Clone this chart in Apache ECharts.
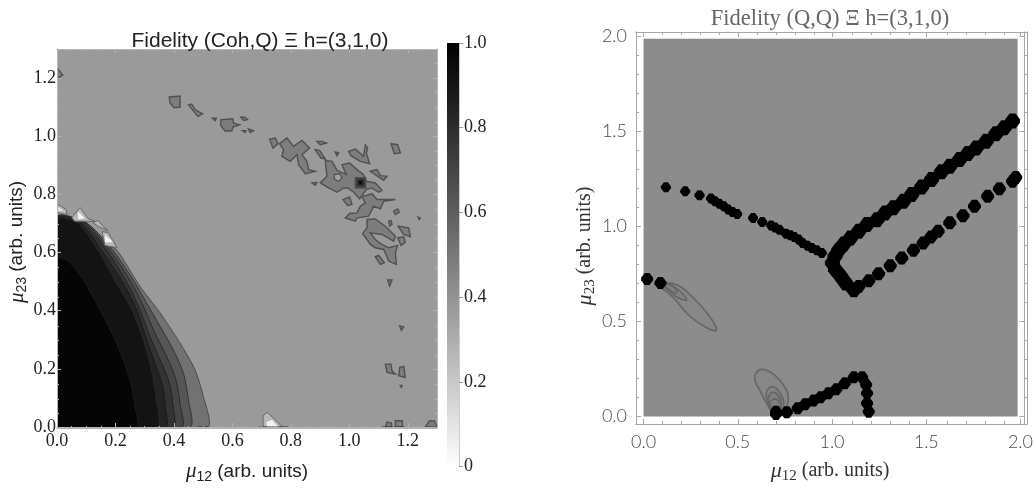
<!DOCTYPE html>
<html><head><meta charset="utf-8">
<style>html,body{margin:0;padding:0;background:#fff}#c{width:1036px;height:489px}</style>
<script src="https://cdn.jsdelivr.net/npm/echarts@6/dist/echarts.min.js"></script>
</head><body><div id="c"></div>
<script>
// ---- tick values
const leftTicks=[0,0.2,0.4,0.6,0.8,1.0,1.2];
const leftMinor=[0.05,0.1,0.15,0.25,0.3,0.35,0.45,0.5,0.55,0.65,0.7,0.75,0.85,0.9,0.95,1.05,1.1,1.15,1.25];
const rightTicks=[0,0.5,1.0,1.5,2.0];
const rightMinor=[0.1,0.2,0.3,0.4,0.6,0.7,0.8,0.9,1.1,1.2,1.3,1.4,1.6,1.7,1.8,1.9];
// ---- left panel: filled contour bands around the origin
const plateL=[[0,0],[1.3,0],[1.3,1.3],[0,1.3]];
const band1=[[0,0.725],[0.049,0.711],[0.1,0.704],[0.158,0.633],[0.203,0.61],[0.283,0.485],[0.352,0.393],[0.42,0.29],[0.471,0.199],[0.5,0.107],[0.514,0]];
const band2=[[0,0.722],[0.1,0.702],[0.18,0.622],[0.26,0.507],[0.306,0.427],[0.352,0.347],[0.397,0.267],[0.432,0.187],[0.449,0.096],[0.454,0]];
const band3=[[0,0.72],[0.095,0.702],[0.175,0.616],[0.255,0.496],[0.295,0.416],[0.334,0.325],[0.374,0.245],[0.406,0.165],[0.422,0.073],[0.426,0]];
const band4=[[0,0.718],[0.089,0.702],[0.169,0.61],[0.243,0.49],[0.283,0.405],[0.317,0.313],[0.352,0.233],[0.384,0.153],[0.397,0.073],[0.397,0]];
const band5=[[0,0.716],[0.083,0.699],[0.158,0.599],[0.226,0.496],[0.272,0.405],[0.306,0.302],[0.334,0.222],[0.361,0.142],[0.371,0.062],[0.372,0]];
const band6=[[0,0.713],[0.072,0.702],[0.146,0.599],[0.203,0.496],[0.255,0.405],[0.295,0.302],[0.323,0.199],[0.34,0.096],[0.342,0]];
const band7=[[0,0.582],[0.038,0.57],[0.089,0.507],[0.146,0.405],[0.203,0.29],[0.249,0.165],[0.266,0.073],[0.272,0]];
// ---- left panel: pale spikes along the edge of the bands
const spikes=[
 [[0,0.768],[0.031,0.748],[0.034,0.731],[0,0.738]],
 [[0.051,0.72],[0.079,0.755],[0.106,0.717],[0.13,0.707],[0.06,0.708]],
 [[0.123,0.703],[0.14,0.71],[0.158,0.69],[0.175,0.675],[0.14,0.69]],
 [[0.154,0.672],[0.175,0.669],[0.205,0.617],[0.164,0.624]],
 [[0.705,0.038],[0.719,0.051],[0.771,0],[0.705,0]]];
const spikeCores=[
 [[0,0.758],[0.021,0.744],[0,0.744]],
 [[0.072,0.741],[0.096,0.717],[0.072,0.714]],
 [[0.164,0.662],[0.192,0.635],[0.164,0.635]],
 [[0.719,0],[0.716,0.017],[0.736,0.024],[0.757,0]]];
// ---- left panel: scattered islands
const islands=[
 [[0,1.235],[0.02,1.21],[0,1.197]],
 [[0.384,1.135],[0.421,1.138],[0.421,1.1],[0.401,1.098],[0.387,1.114]],
 [[0.45,1.108],[0.461,1.111],[0.473,1.091],[0.498,1.077],[0.482,1.068],[0.465,1.089]],
 [[0.532,1.062],[0.545,1.062],[0.541,1.054]],
 [[0.5605,1.0567],[0.6016,1.06],[0.604,1.045],[0.6244,1.0395],[0.6016,1.0315],[0.598,1.018],[0.575,1.018],[0.5605,1.036]],
 [[0.629,1.066],[0.644,1.065],[0.652,1.057],[0.638,1.054]],
 [[0.635,1.019],[0.646,1.019],[0.644,1.013]],
 [[0.655,1.025],[0.672,1.019],[0.661,1.013]],
 [[0.727,0.99],[0.747,0.994],[0.756,0.974],[0.739,0.959]],
 [[0.7865,0.9937],[0.8094,0.965],[0.838,0.9857],[0.8642,0.9594],[0.838,0.9365],[0.855,0.9137],[0.8607,0.8851],[0.8836,0.8794],[0.8493,0.8714],[0.8265,0.9022],[0.8208,0.9365],[0.798,0.9137],[0.7694,0.9308],[0.775,0.9537],[0.7614,0.9743]],
 [[0.8893,0.9823],[0.9064,0.9823],[0.9212,0.9766],[0.9007,0.9708]],
 [[0.8836,0.9537],[0.8984,0.9514],[0.9178,0.9217],[0.903,0.9251]],
 [[0.952,0.9457],[0.9635,0.9423],[0.9578,0.9331]],
 [[0.9977,0.948],[1.0205,0.956],[1.049,0.9308],[1.0548,0.9708],[1.0628,0.9594],[1.0582,0.9423],[1.0696,0.9057],[1.0377,0.9137],[1.0057,0.9331]],
 [[1.1427,0.9743],[1.1655,0.9708],[1.1747,0.9423],[1.1541,0.94]],
 [[0.9178,0.9171],[0.9406,0.9137],[0.9578,0.8828],[0.9897,0.8679],[0.9749,0.9022],[1.0011,0.9079],[1.0263,0.8851],[1.0491,0.8679],[1.0582,0.8451],[1.089,0.8393],[1.1119,0.8142],[1.1005,0.8073],[1.0776,0.8222],[1.0582,0.8165],[1.0354,0.7845],[1.0148,0.8073],[0.9943,0.8222],[0.9806,0.8222],[0.9578,0.8073],[0.9292,0.8222],[0.9007,0.8393],[0.9235,0.8622]],
 [[0.8721,0.8393],[0.8893,0.8416],[0.8836,0.8313]],
 [[1.072,0.8794],[1.0947,0.8851],[1.1062,0.8645],[1.129,0.8622],[1.1176,0.8485],[1.089,0.8679]],
 [[1.0434,0.7913],[1.0776,0.8027],[1.0947,0.7822],[1.1575,0.7822],[1.1176,0.7764],[1.1062,0.7501],[1.0833,0.7593],[1.0662,0.725],[1.0263,0.7193],[1.0205,0.7078],[0.9863,0.7193],[1.0011,0.7341],[1.0263,0.7364],[1.0377,0.7593],[1.0548,0.7707]],
 [[0.9783,0.7822],[1.0011,0.7913],[1.0091,0.765],[0.9943,0.7616]],
 [[1.1518,0.7421],[1.1655,0.7501],[1.1712,0.7387],[1.1575,0.7307]],
 [[1.2352,0.7216],[1.2431,0.7181],[1.2386,0.7135]],
 [[1.1347,0.7078],[1.1427,0.71],[1.1461,0.6964],[1.1381,0.6907]],
 [[1.0605,0.7135],[1.089,0.7158],[1.1233,0.6907],[1.1575,0.6564],[1.1518,0.6392],[1.1119,0.6621],[1.072,0.6678],[1.089,0.6449],[1.1119,0.6278],[1.1347,0.6163],[1.1655,0.6244],[1.1575,0.5992],[1.161,0.5592],[1.1347,0.5706],[1.1176,0.6106],[1.089,0.6163],[1.072,0.6278],[1.0457,0.6655],[1.0605,0.685]],
 [[1.1667,0.6907],[1.2032,0.685],[1.2089,0.6541],[1.1861,0.6621]],
 [[1.1655,0.6507],[1.1861,0.6541],[1.1918,0.6358],[1.177,0.6244]],
 [[1.089,0.5855],[1.1005,0.59],[1.1199,0.5649],[1.1062,0.5592]],
 [[1.1313,0.5054],[1.1461,0.5054],[1.1381,0.4848]],
 [[1.1723,0.3476],[1.1861,0.3442],[1.178,0.3328]],
 [[1.1233,0.2162],[1.1427,0.2162],[1.1461,0.1933],[1.1575,0.1819],[1.129,0.1876]],
 [[1.1723,0.2047],[1.1861,0.2082],[1.1918,0.1704],[1.169,0.1761]],
 [[1.1746,0.143],[1.1803,0.143],[1.178,0.1372]],
 [[1.123,0],[1.129,0.017],[1.143,0.014],[1.146,0]],
 [[1.1575,0],[1.1575,0.0216],[1.1815,0.0216],[1.1815,0]],
 [[1.26,0],[1.274,0.0206],[1.291,0.0206],[1.3,0]]];
const islandHoles=[[[0.9486,0.8679],[0.9669,0.8714],[0.9749,0.8565],[0.9635,0.845],[0.9486,0.853]]];
const peak1=[[1.0183,0.8599],[1.0582,0.8599],[1.0582,0.8199],[1.0183,0.8199]];
const peak2=[[1.0263,0.853],[1.0514,0.853],[1.0514,0.8279],[1.0263,0.8279]];
const peak3=[[1.0331,0.8462],[1.0445,0.8462],[1.0445,0.8348],[1.0331,0.8348]];
const baseRuns=[[[0.48,0],[0.52,0]],[[0.69,0],[0.79,0]],[[1.11,0],[1.19,0]]];
// ---- right panel
const plateR=[[0,0],[1.985,0],[1.985,1.985],[0,1.985]];
const ridgeThin=[[0.119,1.204],[0.221,1.183],[0.297,1.162],[0.358,1.145],[0.379,1.131],[0.402,1.118],[0.426,1.104],[0.449,1.087],[0.472,1.074],[0.497,1.064],[0.581,1.043],[0.63,1.022],[0.677,1.003],[0.698,0.992],[0.721,0.981],[0.756,0.96],[0.779,0.952],[0.8,0.943],[0.823,0.929],[0.844,0.911],[0.87,0.897],[0.893,0.885],[0.919,0.873],[0.946,0.859]];
const ridgeUpper=[[1.958,1.552],[1.914,1.517],[1.87,1.485],[1.818,1.446],[1.765,1.411],[1.721,1.381],[1.677,1.35],[1.625,1.315],[1.581,1.285],[1.528,1.245],[1.476,1.206],[1.423,1.166],[1.379,1.131],[1.326,1.096],[1.282,1.069],[1.239,1.034],[1.186,1.008],[1.142,0.973],[1.098,0.938],[1.063,0.906],[1.037,0.876],[1.016,0.841],[1.002,0.806],[1.019,0.771],[1.046,0.736],[1.072,0.701],[1.116,0.666]];
const ridgeLower=[[1.142,0.683],[1.195,0.713],[1.247,0.75],[1.309,0.792],[1.37,0.832],[1.432,0.873],[1.484,0.911],[1.525,0.943],[1.563,0.973],[1.625,1.017],[1.695,1.055],[1.756,1.104],[1.826,1.157],[1.888,1.196],[1.958,1.236],[1.975,1.256]];
const ridgeBottom=[[0.019,0.722],[0.0895,0.701],[0.703,0.025],[0.703,0.012],[0.76,0.022],[0.818,0.043],[0.858,0.064],[0.902,0.083],[0.94,0.101],[0.981,0.122],[1.023,0.143],[1.068,0.174],[1.116,0.206],[1.16,0.206],[1.181,0.166],[1.186,0.122],[1.186,0.069],[1.195,0.025]];
const loopA1=[[0.0895,0.701],[0.1772,0.692],[0.265,0.622],[0.344,0.534],[0.388,0.455],[0.344,0.461],[0.247,0.525],[0.16,0.622],[0.0895,0.683]];
const loopA2=[[0.098,0.701],[0.16,0.683],[0.23,0.613],[0.186,0.622],[0.125,0.666]];
const loopA3=[[0.107,0.701],[0.16,0.68],[0.177,0.648],[0.133,0.669]];
const loopB1=[[0.616,0.245],[0.668,0.236],[0.721,0.192],[0.765,0.122],[0.76,0.052],[0.73,0.017],[0.703,0.008],[0.668,0.043],[0.625,0.122],[0.589,0.201]];
const loopB2=[[0.672,0.153],[0.703,0.148],[0.739,0.096],[0.742,0.052],[0.712,0.017],[0.677,0.052],[0.651,0.113]];
const loopB3=[[0.677,0.122],[0.703,0.122],[0.73,0.078],[0.721,0.034],[0.686,0.034],[0.66,0.078]];
const loopB4=[[0.682,0.087],[0.712,0.087],[0.726,0.052],[0.694,0.034],[0.668,0.06]];

const serif='"Liberation Serif"', sans='"Liberation Sans"';
const blob='path://M3 0L7 0L10 4L10 6L7 10L3 10L0 6L0 4Z';
function closeToAxis(p){return [[0,0]].concat(p);}
function layer(grid,polys,z){
 return {type:'custom',coordinateSystem:'cartesian2d',xAxisIndex:grid,yAxisIndex:grid,silent:true,animation:false,clip:true,z:z||2,
  data:polys.map((p,i)=>[p.pts[0][0],p.pts[0][1],i]),
  encode:{x:0,y:1},
  renderItem:function(params,api){
   const p=polys[api.value(2)];
   const pts=p.pts.map(d=>api.coord(d));
   return {type:p.open?'polyline':'polygon',shape:{points:pts,smooth:p.smooth||0},
     style:{fill:p.open||p.fill==null?'none':p.fill,stroke:p.stroke||null,lineWidth:p.w==null?1:p.w}};
  }};
}
function axisSet(g,r,major,minor,xLabelCfg,yLabelCfg,names,col,majLen,minLen){
 const base=(pos,ticks,len,cfg,name)=>Object.assign({
   type:'value',min:r[0],max:r[1],position:pos,z:6,
   splitLine:{show:false},silent:true,
   axisLine:{show:true,onZero:false,lineStyle:{color:col,width:1}},
   axisTick:{show:true,inside:true,length:len,lineStyle:{color:col,width:1},customValues:ticks},
   axisLabel:cfg?Object.assign({customValues:ticks,formatter:v=>v.toFixed(1)},cfg):{show:false}
 },name||{});
 return {x:[
   Object.assign(base('bottom',major,majLen,xLabelCfg,names.x),{gridIndex:g}),
   Object.assign(base('top',major,majLen,null),{gridIndex:g}),
   Object.assign(base('bottom',minor,minLen,null),{gridIndex:g+1}),
   Object.assign(base('top',minor,minLen,null),{gridIndex:g+1})],
  y:[
   Object.assign(base('left',major,majLen,yLabelCfg,names.y),{gridIndex:g}),
   Object.assign(base('right',major,majLen,null),{gridIndex:g}),
   Object.assign(base('left',minor,minLen,null),{gridIndex:g+1}),
   Object.assign(base('right',minor,minLen,null),{gridIndex:g+1})]};
}
function muName(sub,font,size,color){
 return {name:'{m|μ}{s|'+sub+'}{r| (arb. units)}',nameLocation:'middle',
  nameTextStyle:{rich:{
   m:{fontFamily:serif,fontStyle:'italic',fontSize:size+2,color:color},
   s:{fontFamily:font,fontSize:size-5,color:color,verticalAlign:'bottom',lineHeight:size+6,padding:[6,0,0,0]},
   r:{fontFamily:font,fontSize:size,color:color}}}};
}
const leftCol='#b5b5b5', rightCol='#a8a8a8';
const L=axisSet(0,[0,1.3],leftTicks,leftMinor,
 {fontFamily:serif,fontSize:18,color:'#222',margin:5},
 {fontFamily:serif,fontSize:18,color:'#222',margin:1},
 {x:Object.assign(muName('12',sans,19,'#222'),{nameGap:32}),
  y:Object.assign(muName('23',sans,19,'#222'),{nameGap:27,nameRotate:90})},leftCol,4,2);
const R=axisSet(2,[-0.04,2.02],rightTicks,rightMinor,
 {fontFamily:'Lato',fontWeight:300,fontSize:18,color:'#4a4a4a',margin:9},
 {fontFamily:'Lato',fontWeight:300,fontSize:18,color:'#4a4a4a',margin:9},
 {x:Object.assign(muName('12',serif,20,'#333'),{nameGap:34}),
  y:Object.assign(muName('23',serif,20,'#333'),{nameGap:37,nameRotate:90})},rightCol,5,3);
R.y[0].nameTextStyle.padding=[0,36,0,0];
L.y[0].nameTextStyle.padding=[0,8,0,0];

const barX={type:'value',gridIndex:4,min:0,max:1,show:false};
const barY={type:'value',gridIndex:4,min:0,max:1,interval:0.2,position:'right',z:6,
  splitLine:{show:false},axisLine:{show:true,onZero:false,lineStyle:{color:'#ccc'}},
  axisTick:{show:true,length:4,lineStyle:{color:'#999'}},
  axisLabel:{fontFamily:serif,fontSize:18,color:'#222',margin:5,formatter:v=>v===0?'0':v.toFixed(1)}};
const xAxis=L.x.concat(R.x,[barX]);
const yAxis=L.y.concat(R.y,[barY]);

const edge='#505050';
const bandStyle=(p,fill,stroke)=>({pts:closeToAxis(p),fill:fill,stroke:stroke,w:1,smooth:0.25});
const scat=(d,size)=>({type:'scatter',xAxisIndex:4,yAxisIndex:4,silent:true,animation:false,z:4,symbol:blob,symbolSize:size,itemStyle:{color:'#000',opacity:1},data:d});
const series=[
 layer(0,[{pts:plateL,fill:'#9a9a9a'}],2),
 layer(0,[
  bandStyle(band1,'#727272','#4a4a4a'),
  bandStyle(band2,'#565656','#333'),
  bandStyle(band3,'#454545','#2a2a2a'),
  bandStyle(band4,'#333333','#222'),
  bandStyle(band5,'#232323','#1a1a1a'),
  bandStyle(band6,'#131313','#2a2a2a'),
  bandStyle(band7,'#050505','#1c1c1c')],3),
 layer(0,spikes.map(p=>({pts:p,fill:'#b8b8b8',stroke:'#666',w:1})),4),
 layer(0,spikeCores.map(p=>({pts:p,fill:'#f2f2f2'})),4),
 layer(0,islands.map(p=>({pts:p,fill:'#7d7d7d',stroke:edge,w:1.4})),4),
 layer(0,islandHoles.map(p=>({pts:p,fill:'#a2a2a2',stroke:edge,w:1.2})),4),
 layer(0,[{pts:peak1,fill:'#4a4a4a'},{pts:peak2,fill:'#2e2e2e'},{pts:peak3,fill:'#0e0e0e'}],4),
 layer(0,baseRuns.map(p=>({pts:p,open:true,stroke:'#333',w:1})),5),
 layer(4,[{pts:plateR,fill:'#8c8c8c'}],2),
 layer(4,[loopA1,loopA2,loopA3,loopB1,loopB2,loopB3,loopB4].map(p=>({pts:p,fill:'rgba(120,120,120,0.25)',stroke:'#656565',w:1.6,smooth:0.4})),3),
 scat(ridgeThin,10),scat(ridgeUpper,15),scat(ridgeLower,13),scat(ridgeBottom,12),
 {type:'custom',coordinateSystem:'cartesian2d',xAxisIndex:8,yAxisIndex:8,silent:true,animation:false,
  data:[[0,0],[1,1]],encode:{x:0,y:1},
  renderItem:function(params,api){
   if(params.dataIndex!==0)return null;
   const a=api.coord([0,0]),b=api.coord([1,1]);
   return {type:'rect',shape:{x:a[0],y:b[1],width:b[0]-a[0],height:a[1]-b[1]},
    style:{fill:new echarts.graphic.LinearGradient(0,0,0,1,[
      {offset:0,color:'#000'},{offset:0.2,color:'#2c2c2c'},{offset:0.4,color:'#5e5e5e'},{offset:0.6,color:'#939393'},{offset:0.8,color:'#c8c8c8'},{offset:1,color:'#fff'}])}};
  }}
];
const grids=[
 {left:57,top:49,width:380,height:379},{left:57,top:49,width:380,height:379},
 {left:636,top:32,width:391,height:392},{left:636,top:32,width:391,height:392},
 {left:447,top:43,width:12,height:423.5}];
const chart=echarts.init(document.getElementById('c'),null,{renderer:'canvas'});
chart.setOption({animation:false,backgroundColor:'#fff',
 title:[
  {text:'Fidelity (Coh,Q) Ξ h=(3,1,0)',left:255,top:26,textAlign:'center',textStyle:{fontFamily:sans,fontWeight:'normal',fontSize:21,color:'#222'}},
  {text:'Fidelity (Q,Q) Ξ h=(3,1,0)',left:825,top:3,textAlign:'center',textStyle:{fontFamily:serif,fontWeight:'normal',fontSize:22.5,color:'#666'}}],
 grid:grids,xAxis:xAxis,yAxis:yAxis,series:series});
</script></body></html>
